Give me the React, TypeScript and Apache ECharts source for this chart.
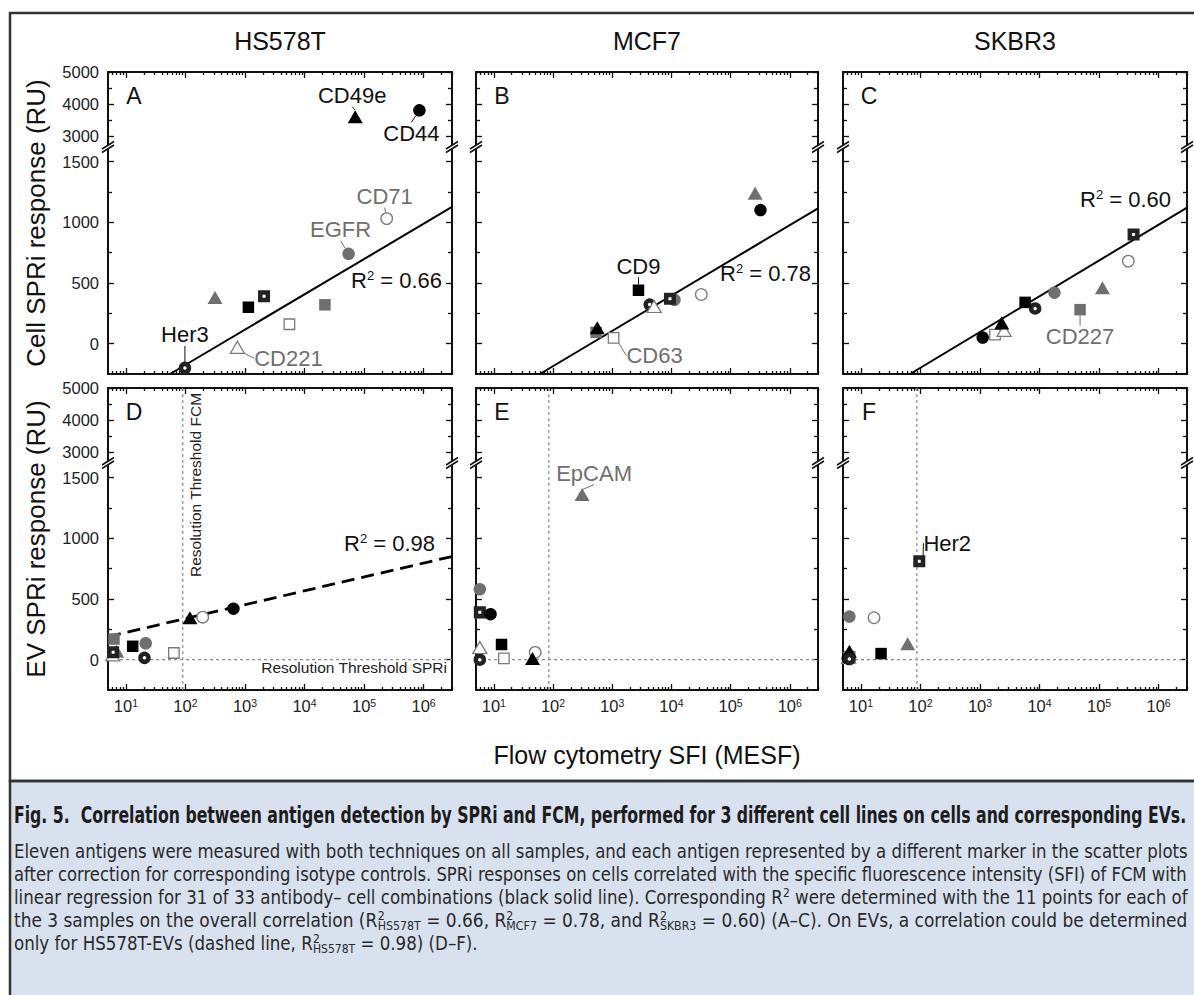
import React, { useEffect, useRef } from 'react';
import * as echarts from 'echarts';

const FONT = "'Liberation Sans', Arial, sans-serif";
const CAP_FONT = "'Liberation Sans Narrow', 'DejaVu Sans Condensed', 'Noto Sans', sans-serif";

// ---------------- data ----------------
const CELL_LINES = ['HS578T', 'MCF7', 'SKBR3'];
const PANEL_LETTERS = ['A', 'B', 'C', 'D', 'E', 'F'];
const ANTIGENS = ['CD44', 'CD49e', 'CD71', 'EGFR', 'Her3', 'CD221', 'EpCAM', 'CD9', 'Her2', 'CD63', 'CD227'];

// cells (A-C)
const A_X = [8.5e5, 7.1e4, 2.4e5, 5.5e4, 98, 745, 314, 1140, 2090, 5570, 2.2e4];
const A_Y = [3800, 3600, 1030, 740, -200, -30, 380, 300, 390, 160, 320];
const B_X = [3.2e5, 560, 3.2e4, 1.13e4, 4300, 5100, 2.6e5, 2780, 9460, 1055, 533];
const B_Y = [1100, 130, 405, 361, 322, 306, 1240, 440, 369, 47, 93];
const C_X = [1110, 2320, 3.1e5, 1.78e4, 8430, 2540, 1.14e5, 5730, 3.8e5, 1790, 4.8e4];
const C_Y = [50, 170, 680, 420, 290, 110, 460, 340, 900, 75, 280];
// EVs (D-F)
const D_X = [640, 119, 195, 21.5, 20.5, 6, 7, 13, 6.1, 64, 6.3];
const D_Y = [420, 345, 350, 135, 15, 40, 70, 110, 60, 55, 170];
const E_X = [8.8, 45, 50, 5.8, 5.8, 5.8, 310, 13.5, 5.8, 14.8, 5.8];
const E_Y = [375, 10, 60, 580, 0, 100, 1360, 125, 390, 10, 385];
const F_X = [6, 6.4, 16.6, 6.4, 6.4, 6.2, 61, 21.8, 95.5, 6.3, 6.5];
const F_Y = [10, 70, 345, 355, 5, 20, 130, 50, 810, 15, 25];

// regression lines (end points)
const FIT_A = [[55, -250], [3e6, 1126]];
const FIT_B = [[60, -250], [3e6, 1115]];
const FIT_C = [[67, -250], [3e6, 1120]];
const FIT_D = [[5, 190], [3e6, 850]];
const R2_VALUES = ['0.66', '0.78', '0.60', '0.98'];

// resolution thresholds (D-F)
const FCM_THRESHOLD = [90, 85, 87];
const SPRI_THRESHOLD = 0;

// axes
const X_MIN = 5;
const X_MAX = 3e6;
const MAJOR_X = [10, 100, 1e3, 1e4, 1e5, 1e6];
const MINOR_MULT = [2, 3, 4, 5, 6, 7, 8, 9];
const DECADES = [1, 10, 100, 1e3, 1e4, 1e5, 1e6];
const MINOR_X: number[] = [];
DECADES.forEach((d) => MINOR_MULT.forEach((m) => { const v = m * d; if (v >= X_MIN && v <= X_MAX) MINOR_X.push(v); }));
const Y_UP = [2650, 5000];
const Y_LOW = [-250, 1620];
const Y_UP_MAJOR = [3000, 4000, 5000];
const Y_UP_MINOR = [3500, 4500];
const Y_LOW_MAJOR = [0, 500, 1000, 1500];
const Y_LOW_MINOR = [250, 750, 1250];

// texts
const Y_TITLES = ['Cell SPRi response (RU)', 'EV SPRi response (RU)'];
const X_TITLE = 'Flow cytometry SFI (MESF)';
const CAPTION_TITLE = 'Fig. 5.  Correlation between antigen detection by SPRi and FCM, performed for 3 different cell lines on cells and corresponding EVs.';
const CAPTION_LINES = [
  'Eleven antigens were measured with both techniques on all samples, and each antigen represented by a different marker in the scatter plots',
  'after correction for corresponding isotype controls. SPRi responses on cells correlated with the specific fluorescence intensity (SFI) of FCM with',
  'linear regression for 31 of 33 antibody\u2013 cell combinations (black solid line). Corresponding R{sp|2} were determined with the 11 points for each of',
  'the 3 samples on the overall correlation (R{st|2}{sb|HS578T} = 0.66, R{st|2}{sb|MCF7} = 0.78, and R{st|2}{sb|SKBR3} = 0.60) (A\u2013C). On EVs, a correlation could be determined',
  'only for HS578T-EVs (dashed line, R{st|2}{sb|HS578T} = 0.98) (D\u2013F).',
];

// ---------------- styles / layout ----------------
const FRAME = '#111';
const GRAY = '#6f6f6f';
const OPEN = '#7a7a7a';
const DARK = '#222';
const COL_LEFT = [108, 476, 843];
const COL_W = [344, 342, 344];
const ROW_TOP = [72, 388];
const UP_H = 75;
const LOW_H = 227;

const MARKER: Record<string, any> = {
  CD44: { symbol: 'circle', size: 12.5, fill: '#000', label: '#111' },
  CD49e: { symbol: 'triangle', size: [15, 13], fill: '#000', label: '#111' },
  CD71: { symbol: 'circle', size: 11.5, fill: '#fff', stroke: OPEN, bw: 1.3, label: GRAY },
  EGFR: { symbol: 'circle', size: 12.5, fill: GRAY, label: GRAY },
  Her3: { symbol: 'circle', size: 8, fill: '#fff', stroke: DARK, bw: 4.5, label: '#111' },
  CD221: { symbol: 'triangle', size: [14, 12], fill: '#fff', stroke: OPEN, bw: 1.3, label: GRAY },
  EpCAM: { symbol: 'triangle', size: [15, 13], fill: GRAY, label: GRAY },
  CD9: { symbol: 'rect', size: 11.5, fill: '#000', label: '#111' },
  Her2: { symbol: 'rect', size: 7.5, fill: '#fff', stroke: DARK, bw: 4.5, label: '#111' },
  CD63: { symbol: 'rect', size: 10.5, fill: '#fff', stroke: OPEN, bw: 1.3, label: GRAY },
  CD227: { symbol: 'rect', size: 11.5, fill: GRAY, label: GRAY },
};
const DRAW_ORDER = ['CD227', 'EGFR', 'CD63', 'EpCAM', 'Her3', 'CD221', 'CD9', 'CD71', 'Her2', 'CD44', 'CD49e'];
const ON_TOP = [{ panel: 5, antigen: 'Her3' }];

const NOTES = [
  { panel: 0, antigen: 'CD49e', dx: -3, dy: -21 },
  { panel: 0, antigen: 'CD44', dx: -8, dy: 23 },
  { panel: 0, antigen: 'CD71', dx: -2, dy: -22 },
  { panel: 0, antigen: 'EGFR', dx: -8, dy: -24 },
  { panel: 0, antigen: 'Her3', dx: 0, dy: -33 },
  { panel: 0, antigen: 'CD221', dx: 51, dy: 11 },
  { panel: 1, antigen: 'CD9', dx: 0, dy: -24 },
  { panel: 1, antigen: 'CD63', dx: 41, dy: 18 },
  { panel: 2, antigen: 'CD227', dx: 0, dy: 27 },
  { panel: 4, antigen: 'EpCAM', dx: 12, dy: -21 },
  { panel: 5, antigen: 'Her2', dx: 28, dy: -18 },
];
const R2_POS = [
  { x: 442, y: 280 },
  { x: 811, y: 273 },
  { x: 1171, y: 199 },
  { x: 435, y: 543 },
];

function makeX(gi: number, position: string, ticks: number[], len: number, line: boolean, labels: boolean) {
  return {
    type: 'log', logBase: 10, gridIndex: gi, min: X_MIN, max: X_MAX, position,
    axisLine: { show: line, onZero: false, lineStyle: { color: FRAME, width: 2 } },
    axisTick: { show: true, inside: true, length: len, customValues: ticks, lineStyle: { color: FRAME, width: 1.3 } },
    axisLabel: labels
      ? {
          show: true, customValues: MAJOR_X, margin: 7,
          formatter: (v: number) => `{b|10}{s|${Math.round(Math.log10(v))}}`,
          rich: {
            b: { fontSize: 16.5, fontFamily: FONT, color: '#222' },
            s: { fontSize: 10.5, fontFamily: FONT, color: '#222', verticalAlign: 'top' },
          },
        }
      : { show: false },
    splitLine: { show: false }, minorTick: { show: false }, minorSplitLine: { show: false }, silent: true,
  };
}

function makeY(gi: number, position: string, range: number[], ticks: number[], len: number, line: boolean, labels: boolean, labelVals: number[]) {
  return {
    type: 'value', gridIndex: gi, min: range[0], max: range[1], position,
    axisLine: { show: line, onZero: false, lineStyle: { color: FRAME, width: 2 } },
    axisTick: { show: true, inside: true, length: len, customValues: ticks, lineStyle: { color: FRAME, width: 1.3 } },
    axisLabel: labels
      ? { show: true, customValues: labelVals, margin: 9, fontSize: 16.5, fontFamily: FONT, color: '#222', formatter: (v: number) => String(v) }
      : { show: false },
    splitLine: { show: false }, minorTick: { show: false }, silent: true,
  };
}

function textEl(x: number, y: number, text: string, size: number, color: string, align = 'center', extra: any = {}) {
  return {
    type: 'text', x, y, silent: true, z: 100, ...extra,
    style: { text, fontSize: size, fontFamily: FONT, fill: color, align, textAlign: align, verticalAlign: 'middle', textVerticalAlign: 'middle' },
  };
}

// canvas text measurement (for justifying caption lines)
let _ctx: CanvasRenderingContext2D | null = null;
function textW(font: string, s: string) {
  if (!_ctx) _ctx = document.createElement('canvas').getContext('2d');
  if (!_ctx || !s) return 0;
  _ctx.font = font;
  return _ctx.measureText(s).width;
}
function fontOf(st: any) {
  return `${st.fontWeight || 'normal'} ${st.fontSize}px ${st.fontFamily}`;
}
function richWidth(line: string, base: any, rich: any) {
  const re = /\{(\w+)\|([^}]*)\}/g;
  let w = 0;
  let last = 0;
  let m: RegExpExecArray | null;
  const bf = fontOf(base);
  while ((m = re.exec(line))) {
    w += textW(bf, line.slice(last, m.index));
    const st = rich[m[1]];
    if (st.width !== 0) w += textW(fontOf(st), m[2]);
    last = re.lastIndex;
  }
  w += textW(bf, line.slice(last));
  return w;
}

function buildOption() {
  const grid: any[] = [];
  const xAxis: any[] = [];
  const yAxis: any[] = [];
  const series: any[] = [];
  const elements: any[] = [];

  const panels = [
    { xs: A_X, ys: A_Y, fit: FIT_A, dashed: false },
    { xs: B_X, ys: B_Y, fit: FIT_B, dashed: false },
    { xs: C_X, ys: C_Y, fit: FIT_C, dashed: false },
    { xs: D_X, ys: D_Y, fit: FIT_D, dashed: true },
    { xs: E_X, ys: E_Y, fit: null, dashed: false },
    { xs: F_X, ys: F_Y, fit: null, dashed: false },
  ];

  // frame + caption background
  elements.push({ type: 'rect', z: -10, silent: true, shape: { x: 10, y: 781, width: 1200, height: 240 }, style: { fill: '#d8e2ee', stroke: '#333', lineWidth: 2.5 } });
  elements.push({ type: 'rect', z: -9, silent: true, shape: { x: 10, y: 13, width: 1200, height: 768 }, style: { fill: 'none', stroke: '#333', lineWidth: 2.5 } });

  panels.forEach((p, pi) => {
    const row = Math.floor(pi / 3);
    const col = pi % 3;
    const left = COL_LEFT[col];
    const width = COL_W[col];
    const top = ROW_TOP[row];
    const parts = [
      { top, height: UP_H, range: Y_UP, major: Y_UP_MAJOR, minor: Y_UP_MINOR, upper: true },
      { top: top + UP_H, height: LOW_H, range: Y_LOW, major: Y_LOW_MAJOR, minor: Y_LOW_MINOR, upper: false },
    ];
    const ax: { xi: number; yi: number }[] = [];
    parts.forEach((part) => {
      const gi = grid.length;
      grid.push({ left, top: part.top, width, height: part.height, show: false, containLabel: false, outerBoundsMode: 'none' });
      const xi = xAxis.length;
      const pos = part.upper ? 'top' : 'bottom';
      xAxis.push(makeX(gi, pos, MAJOR_X, 6, true, !part.upper && row === 1));
      xAxis.push(makeX(gi, pos, MINOR_X, 3, false, false));
      const yi = yAxis.length;
      yAxis.push(makeY(gi, 'left', part.range, part.major, 6, true, col === 0, part.major));
      yAxis.push(makeY(gi, 'left', part.range, part.minor, 4, false, false, []));
      yAxis.push(makeY(gi, 'right', part.range, part.major, 6, true, false, []));
      yAxis.push(makeY(gi, 'right', part.range, part.minor, 4, false, false, []));
      ax.push({ xi, yi });
    });

    // scatter points
    DRAW_ORDER.forEach((name) => {
      const i = ANTIGENS.indexOf(name);
      const x = p.xs[i];
      const y = p.ys[i];
      const a = y > Y_LOW[1] ? ax[0] : ax[1];
      const m = MARKER[name];
      const note = NOTES.find((n) => n.panel === pi && n.antigen === name);
      const top2 = ON_TOP.some((t) => t.panel === pi && t.antigen === name);
      const s: any = {
        type: 'scatter', name, xAxisIndex: a.xi, yAxisIndex: a.yi, data: [[x, y]],
        symbol: m.symbol, symbolSize: m.size, silent: true, z: top2 ? 4 : 2,
        itemStyle: { color: m.fill, borderColor: m.stroke || m.fill, borderWidth: m.bw || 0, opacity: 1 },
        label: { show: false },
      };
      if (note) {
        s.label = { show: true, position: 'inside', formatter: name, fontSize: 22, fontFamily: FONT, color: m.label };
        s.labelLayout = { dx: note.dx, dy: note.dy };
        s.labelLine = { show: true, lineStyle: { color: m.label, width: 1 } };
      }
      series.push(s);
    });

    // regression line
    if (p.fit) {
      series.push({
        type: 'line', xAxisIndex: ax[1].xi, yAxisIndex: ax[1].yi, data: p.fit, symbol: 'none', showSymbol: false, silent: true, z: 1,
        lineStyle: { color: '#000', width: p.dashed ? 2.8 : 2, type: p.dashed ? [13, 7] : 'solid' },
      });
      const rp = R2_POS[pi];
      elements.push({
        type: 'text', x: rp.x, y: rp.y, silent: true, z: 100,
        style: {
          text: `{r|R}{s|2}{r| = ${R2_VALUES[pi]}}`, align: 'right', textAlign: 'right', verticalAlign: 'middle', textVerticalAlign: 'middle',
          fontSize: 22, fontFamily: FONT, fill: '#111',
          rich: {
            r: { fontSize: 22, fontFamily: FONT, fill: '#111' },
            s: { fontSize: 13, fontFamily: FONT, fill: '#111', verticalAlign: 'top' },
          },
        },
      });
    }

    // resolution thresholds
    if (row === 1) {
      const th = FCM_THRESHOLD[col];
      const dl = { color: '#8a8a8a', width: 1.2, type: [3, 3] };
      series.push({ type: 'line', xAxisIndex: ax[0].xi, yAxisIndex: ax[0].yi, data: [[th, Y_UP[0]], [th, Y_UP[1]]], symbol: 'none', silent: true, z: 1, lineStyle: dl });
      series.push({ type: 'line', xAxisIndex: ax[1].xi, yAxisIndex: ax[1].yi, data: [[th, Y_LOW[0]], [th, Y_LOW[1]]], symbol: 'none', silent: true, z: 1, lineStyle: dl });
      series.push({ type: 'line', xAxisIndex: ax[1].xi, yAxisIndex: ax[1].yi, data: [[X_MIN, SPRI_THRESHOLD], [X_MAX, SPRI_THRESHOLD]], symbol: 'none', silent: true, z: 1, lineStyle: dl });
    }

    // panel letter
    elements.push(textEl(left + 26, top + 24, PANEL_LETTERS[pi], 23, '#111'));

    // break marks
    const by = top + UP_H;
    [left, left + width].forEach((bx) => {
      elements.push({ type: 'polygon', silent: true, z: 100, shape: { points: [[bx - 6, by + 2], [bx + 6, by - 5.5], [bx + 6, by - 2], [bx - 6, by + 5.5]] }, style: { fill: '#fff', stroke: 'none' } });
      elements.push({ type: 'line', silent: true, z: 101, shape: { x1: bx - 6, y1: by + 2, x2: bx + 6, y2: by - 5.5 }, style: { stroke: FRAME, lineWidth: 1.5 } });
      elements.push({ type: 'line', silent: true, z: 101, shape: { x1: bx - 6, y1: by + 5.5, x2: bx + 6, y2: by - 2 }, style: { stroke: FRAME, lineWidth: 1.5 } });
    });
  });

  // column titles
  CELL_LINES.forEach((t, c) => elements.push(textEl(COL_LEFT[c] + COL_W[c] / 2, 41, t, 25, '#111')));
  // y titles
  Y_TITLES.forEach((t, r) => elements.push(textEl(36, ROW_TOP[r] + (UP_H + LOW_H) / 2, t, 26, '#111', 'center', { rotation: Math.PI / 2 })));
  // x title
  elements.push(textEl(COL_LEFT[1] + COL_W[1] / 2, 755, X_TITLE, 25, '#111'));
  // threshold texts
  elements.push(textEl(195, 485, 'Resolution Threshold FCM', 15.5, '#222', 'center', { rotation: Math.PI / 2 }));
  elements.push(textEl(447, 667, 'Resolution Threshold SPRi', 15.5, '#222', 'right'));

  // caption
  const CAP_COLOR = '#2a2a2a';
  const capRich: any = {
    sp: { fontSize: 13, fontFamily: CAP_FONT, fill: CAP_COLOR, verticalAlign: 'top' },
    st: { fontSize: 13, fontFamily: CAP_FONT, fill: CAP_COLOR, verticalAlign: 'top', width: 0 },
    sb: { fontSize: 13, fontFamily: CAP_FONT, fill: CAP_COLOR, verticalAlign: 'bottom' },
  };
  const CAP_LEFT = 14;
  const CAP_W = 1174;
  const titleStyle = { text: CAPTION_TITLE, fontSize: 22.5, fontWeight: 'bold', fontFamily: CAP_FONT, fill: '#1c1c1c' };
  const tw = textW(fontOf(titleStyle), CAPTION_TITLE) || CAP_W;
  elements.push({
    type: 'text', x: CAP_LEFT, y: 815, scaleX: CAP_W / tw, silent: true, z: 100,
    style: { ...titleStyle, align: 'left', textAlign: 'left', verticalAlign: 'middle', textVerticalAlign: 'middle' },
  });
  const bodyBase = { fontSize: 20, fontFamily: CAP_FONT, fill: CAP_COLOR, lineHeight: 23 };
  const scales: number[] = [];
  CAPTION_LINES.forEach((line, i) => {
    if (i < CAPTION_LINES.length - 1) {
      const w = richWidth(line, bodyBase, capRich) || CAP_W;
      scales.push(CAP_W / w);
    }
  });
  const avg = scales.reduce((a, b) => a + b, 0) / scales.length;
  CAPTION_LINES.forEach((line, i) => {
    elements.push({
      type: 'text', x: CAP_LEFT, y: 851 + 23 * i, scaleX: i < scales.length ? scales[i] : avg, silent: true, z: 100,
      style: { text: line, ...bodyBase, rich: JSON.parse(JSON.stringify(capRich)), align: 'left', textAlign: 'left', verticalAlign: 'middle', textVerticalAlign: 'middle' },
    });
  });

  return {
    animation: false,
    backgroundColor: '#fff',
    tooltip: { show: false },
    grid, xAxis, yAxis, series,
    graphic: { elements },
  };
}

export default function App() {
  const ref = useRef<HTMLDivElement>(null);
  useEffect(() => {
    if (!ref.current) return;
    const chart = echarts.init(ref.current, null, { renderer: 'svg' });
    chart.setOption(buildOption() as any);
    return () => chart.dispose();
  }, []);
  return (
    <div style={{ position: 'fixed', left: 0, top: 0, width: 1194, height: 995, margin: 0, padding: 0, overflow: 'hidden', background: '#fff' }}>
      <div ref={ref} style={{ width: 1194, height: 995 }} />
    </div>
  );
}
